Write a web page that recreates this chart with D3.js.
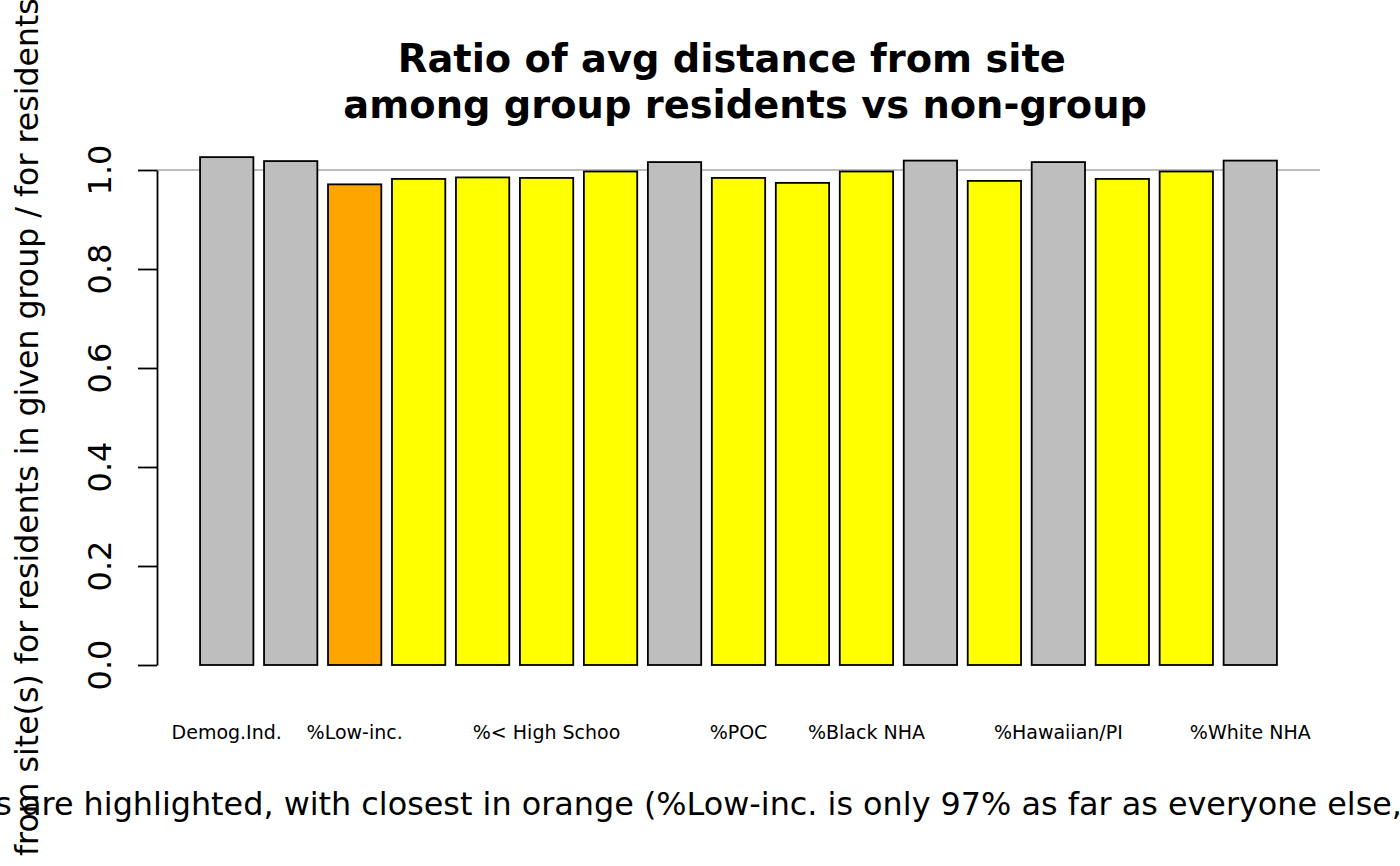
<!DOCTYPE html>
<html>
<head>
<meta charset="utf-8">
<script src="https://cdn.jsdelivr.net/npm/d3@7"></script>
<style>
  html, body { margin: 0; padding: 0; background: #ffffff; overflow: hidden; }
  svg { display: block; font-family: "DejaVu Sans", sans-serif; }
  text { white-space: pre; }
</style>
</head>
<body>
<svg id="chart" width="1400" height="866"></svg>
<script>
// ---- data ----
const axisLabels = ["Demog.Ind.", "", "%Low-inc.", "", "", "%< High Schoo", "", "",
  "%POC", "", "%Black NHA", "", "", "%Hawaiian/PI", "", "", "%White NHA"];
const ratios = [1.026, 1.018, 0.971, 0.982, 0.985, 0.984, 0.997, 1.016,
  0.984, 0.974, 0.997, 1.019, 0.978, 1.016, 0.982, 0.997, 1.019];
const yTicks = [0, 0.2, 0.4, 0.6, 0.8, 1.0];
const titleLines = ["Ratio of avg distance from site ", " among group residents vs non-group"];
const yLabelPrefix = "Avg distance ";
const yLabelRest = "from site(s) for residents in given group / for residents not in group";
const footPrefix = "Groups ";
const footRest = "are highlighted, with closest in orange (%Low-inc. is only 97% as far as everyone else, on average)";

// ---- layout ----
const svg = d3.select("#chart");
const nBars = ratios.length;
const space = 0.2, barW = 1;
const xMin = space, xMax = nBars * (barW + space);
const ext = (xMax - xMin) * 0.04;
const x = d3.scaleLinear().domain([xMin - ext, xMax + ext]).range([157, 1320]);
const y = d3.scaleLinear().domain([0, 1]).range([665, 170]);

const minIdx = d3.minIndex(ratios);
const fillOf = (d, i) => i === minIdx ? "#FFA500" : (d > 1 ? "#BEBEBE" : "#FFFF00");

// reference line at 1
svg.append("line")
  .attr("x1", x.range()[0]).attr("x2", x.range()[1])
  .attr("y1", y(1)).attr("y2", y(1))
  .attr("stroke", "#BEBEBE").attr("stroke-width", 2);

// bars
svg.append("g").selectAll("rect").data(ratios).join("rect")
  .attr("x", (d, i) => x(space + i * (barW + space)))
  .attr("width", (d, i) => x(space + i * (barW + space) + barW) - x(space + i * (barW + space)))
  .attr("y", d => y(d))
  .attr("height", d => y(0) - y(d))
  .attr("fill", fillOf)
  .attr("stroke", "#000").attr("stroke-width", 1.8);

// y axis
const axisG = svg.append("g").attr("transform", `translate(${x.range()[0]},0)`)
  .call(d3.axisLeft(y).tickValues(yTicks).tickSize(19).tickSizeOuter(0).tickFormat(""));
axisG.select(".domain").attr("stroke", "#000").attr("stroke-width", 1.8);
axisG.selectAll(".tick line").attr("stroke", "#000").attr("stroke-width", 1.8);

svg.append("g").selectAll("text").data(yTicks).join("text")
  .attr("transform", d => `translate(111,${y(d)}) rotate(-90)`)
  .attr("text-anchor", "middle")
  .attr("font-size", 32)
  .text(d => d3.format(".1f")(d));

// x labels
svg.append("g").selectAll("text").data(axisLabels).join("text")
  .attr("x", (d, i) => x(space + i * (barW + space) + barW / 2))
  .attr("y", 739)
  .attr("text-anchor", "middle")
  .attr("font-size", 19)
  .text(d => d);

// title
svg.append("g").selectAll("text").data(titleLines).join("text")
  .attr("x", (x.range()[0] + x.range()[1]) / 2)
  .attr("y", (d, i) => 72 + i * 46)
  .attr("text-anchor", "middle")
  .attr("font-size", 38.4)
  .attr("font-weight", "bold")
  .text(d => d);

// helper to measure text
function measure(str, size) {
  const t = svg.append("text").attr("font-size", size).text(str);
  const w = t.node().getComputedTextLength();
  t.remove();
  return w;
}

// y label (rotated), "from" starts near the bottom edge
const yPre = measure(yLabelPrefix, 31.6);
svg.append("text")
  .attr("transform", `translate(38,${856 + yPre}) rotate(-90)`)
  .attr("text-anchor", "start")
  .attr("font-size", 31.6)
  .text(yLabelPrefix + yLabelRest);

// footer, "are" starts at x = 22
const fPre = measure(footPrefix, 31.85);
svg.append("text")
  .attr("x", 22 - fPre)
  .attr("y", 815)
  .attr("text-anchor", "start")
  .attr("font-size", 31.85)
  .text(footPrefix + footRest);
</script>
</body>
</html>
